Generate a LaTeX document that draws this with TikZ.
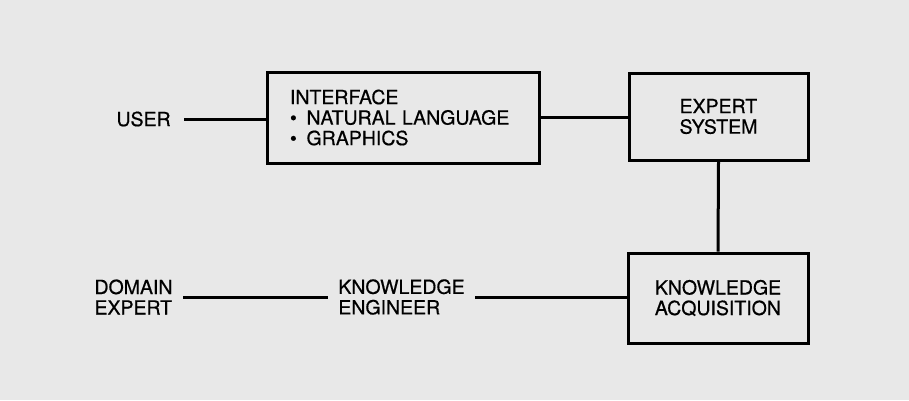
\documentclass[tikz,border=0pt]{standalone}
\usepackage{fontspec}
\setmainfont[FakeBold=0.6]{TeX Gyre Heros}

\begin{document}
\begin{tikzpicture}[x=1pt,y=-1pt,line width=3pt]
  \tikzset{
    box/.style={draw,line width=3pt,align=left,inner sep=0pt,
      font=\fontsize{19.5}{20.5}\selectfont},
    lbl/.style={align=left,inner ysep=0pt,inner xsep=9pt,
      font=\fontsize{19.5}{20.5}\selectfont},
    link/.style={line width=3pt}
  }

  % ================= background =================
  \useasboundingbox (0,0) rectangle (909,400);
  \fill[black!9] (0,0) rectangle (909,400);

  % ================= boxes =================
  \node[box,minimum width=272pt,minimum height=91pt,text width=226pt,inner xsep=23pt]
    (iface) at (403,117.5)
    {INTERFACE\\\textbullet\hspace{0.5em}NATURAL LANGUAGE\\\textbullet\hspace{0.5em}GRAPHICS};
  \node[box,minimum width=179pt,minimum height=87pt] (expert) at (718.5,116.5)
    {EXPERT\\SYSTEM};
  \node[box,minimum width=180pt,minimum height=90pt] (acq) at (718,298)
    {KNOWLEDGE\\ACQUISITION};

  % ================= free labels =================
  \node[lbl,inner xsep=12pt,anchor=west] (user) at (103,119) {USER};
  \node[lbl,anchor=west] (domain) at (84,297) {DOMAIN\\EXPERT};
  \node[lbl] (engineer) at (401.5,297) {KNOWLEDGE\\ENGINEER};

  % ================= connectors =================
  \draw[link] (user.east) -- (user.east -| iface.west);
  \draw[link] (iface.east) -- (iface.east -| expert.west);
  \draw[link] (expert.south) -- (acq.north);
  \draw[link] (domain.east) -- (engineer.west);
  \draw[link] (engineer.east) -- (engineer.east -| acq.west);

\end{tikzpicture}
\end{document}
